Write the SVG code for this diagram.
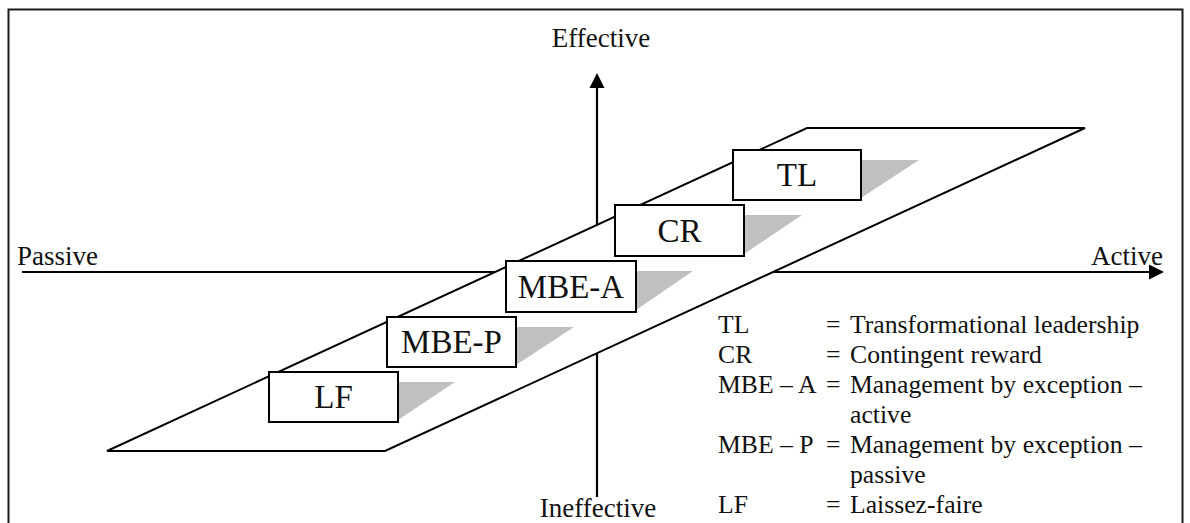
<svg xmlns="http://www.w3.org/2000/svg" width="1190" height="523" viewBox="0 0 1190 523">
  <style>
    .frame { fill: none; stroke: #1a1a1a; stroke-width: 2; }
    .axis { fill: none; stroke: #000; stroke-width: 2.2; }
    .plane { fill: #fff; stroke: #000; stroke-width: 2; stroke-linejoin: miter; }
    .shadow { fill: #c0c0c0; stroke: none; }
    .box { fill: #fff; stroke: #000; stroke-width: 2; }
  </style>
  <defs>
    <marker id="arrow" markerUnits="userSpaceOnUse" markerWidth="16" markerHeight="16" refX="0" refY="7.5" orient="auto" overflow="visible">
      <path d="M0,0 L15,7.5 L0,15 z" fill="#000"/>
    </marker>
  </defs>

  <rect class="frame" x="8.5" y="9.5" width="1174" height="525"/>

  <g id="connectors">
    <line class="axis" x1="597" y1="497" x2="597" y2="88" marker-end="url(#arrow)"/>
    <line class="axis" x1="22" y1="272" x2="1149" y2="272" marker-end="url(#arrow)"/>
  </g>

  <g id="axis-labels" font-family="Liberation Serif, DejaVu Serif, serif" font-size="27" fill="#111">
    <text x="601" y="47" text-anchor="middle">Effective</text>
    <text x="598" y="517" text-anchor="middle">Ineffective</text>
    <text x="17" y="265">Passive</text>
    <text x="1163" y="265" text-anchor="end">Active</text>
  </g>

  <g id="plane">
    <polygon class="plane" points="107,451 385,451 1085,128 807,128"/>
  </g>

  <g font-family="Liberation Serif, DejaVu Serif, serif" font-size="33" fill="#111" text-anchor="middle">
    <g id="node-TL">
      <polygon class="shadow" points="861,160 919,160 861,198"/>
      <rect class="box" x="733" y="150" width="128" height="50"/>
      <text x="797" y="186">TL</text>
    </g>
    <g id="node-CR">
      <polygon class="shadow" points="744,215 802,215 744,254"/>
      <rect class="box" x="615" y="205" width="129" height="51"/>
      <text x="679.5" y="242">CR</text>
    </g>
    <g id="node-MBE-A">
      <polygon class="shadow" points="636,271 693,271 636,310"/>
      <rect class="box" x="506" y="261" width="130" height="51"/>
      <text x="571" y="298">MBE-A</text>
    </g>
    <g id="node-MBE-P">
      <polygon class="shadow" points="516,327 574,327 516,365"/>
      <rect class="box" x="387" y="317" width="129" height="50"/>
      <text x="451.5" y="353">MBE-P</text>
    </g>
    <g id="node-LF">
      <polygon class="shadow" points="398,382 455,382 398,420"/>
      <rect class="box" x="269" y="372" width="129" height="50"/>
      <text x="333.5" y="408">LF</text>
    </g>
  </g>

  <g id="legend" font-family="Liberation Serif, DejaVu Serif, serif" font-size="25.7" fill="#111">
    <text x="718" y="333">TL</text>
    <text x="826" y="333">=</text>
    <text x="850" y="333">Transformational leadership</text>
    <text x="718" y="363">CR</text>
    <text x="826" y="363">=</text>
    <text x="850" y="363">Contingent reward</text>
    <text x="718" y="393">MBE – A</text>
    <text x="826" y="393">=</text>
    <text x="850" y="393">Management by exception –</text>
    <text x="850" y="423">active</text>
    <text x="718" y="453">MBE – P</text>
    <text x="826" y="453">=</text>
    <text x="850" y="453">Management by exception –</text>
    <text x="850" y="483">passive</text>
    <text x="718" y="513">LF</text>
    <text x="826" y="513">=</text>
    <text x="850" y="513">Laissez-faire</text>
  </g>
</svg>
